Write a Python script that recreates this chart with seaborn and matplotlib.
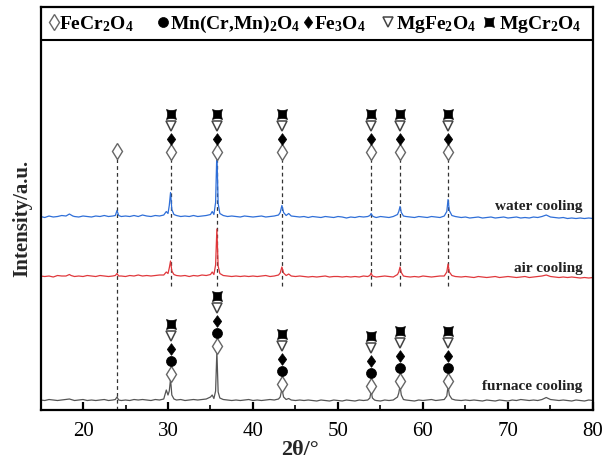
import matplotlib
matplotlib.use("Agg")
import matplotlib.pyplot as plt
import seaborn as sns
import pandas as pd
from matplotlib.path import Path

# ---------------- data ----------------
two_theta = [
    15.0, 15.5, 16.0, 16.5, 17.0, 17.5, 18.0, 18.4, 18.6, 18.8,
    19.0, 19.5, 20.0, 20.5, 21.0, 21.5, 22.0, 22.5, 23.0, 23.5,
    23.8, 24.0, 24.2, 24.5, 25.0, 25.5, 26.0, 26.5, 27.0, 27.5,
    28.0, 28.5, 29.0, 29.5, 29.8, 30.0, 30.15, 30.3, 30.45, 30.7,
    31.0, 31.5, 32.0, 32.5, 33.0, 33.5, 34.0, 34.5, 35.0, 35.2,
    35.4, 35.6, 35.75, 35.9, 36.1, 36.5, 37.0, 37.5, 38.0, 38.5,
    39.0, 39.5, 40.0, 40.5, 41.0, 41.5, 42.0, 42.5, 43.0, 43.2,
    43.4, 43.6, 43.9, 44.2, 44.5, 45.0, 45.5, 46.0, 46.5, 47.0,
    47.5, 48.0, 48.5, 49.0, 49.5, 50.0, 50.5, 51.0, 51.5, 52.0,
    52.5, 53.0, 53.5, 53.75, 53.9, 54.05, 54.3, 54.5, 55.0, 55.5,
    56.0, 56.5, 57.0, 57.15, 57.3, 57.45, 57.7, 58.0, 58.5, 59.0,
    59.5, 60.0, 60.5, 61.0, 61.5, 62.0, 62.5, 62.8, 62.95, 63.1,
    63.4, 63.8, 64.5, 65.0, 65.5, 66.0, 66.5, 67.0, 67.5, 68.0,
    68.5, 69.0, 69.5, 70.0, 70.5, 71.0, 71.5, 72.0, 72.5, 73.0,
    73.5, 74.0, 74.5, 75.0, 75.5, 76.0, 76.5, 77.0, 77.5, 78.0,
    78.5, 79.0, 79.5, 80.0,
]

water_cooling = [
    1, 0, 1.5, 0.5, 1, 2, 1.5, 3.5, 2.5, 1.5,
    1, 0.5, 1.5, 1, 0.5, 1.5, 1, 2, 1, 1.5,
    2, 7, 2, 1, 1.5, 1, 2, 1, 2.5, 1.5,
    1, 2, 1.5, 2.5, 6, 4, 12, 25, 8, 3,
    2, 1, 1.5, 1, 2, 1, 1.5, 2, 3, 6,
    3, 15, 66, 14, 4, 2, 1, 1.5, 1, 0.5,
    1.5, 1, 0.5, 1, 1.5, 0.5, 1, 1.5, 2.5, 5,
    12, 5, 2, 4, 1.5, 1, 0.5, 1, 0, 1,
    0.5, 0, 1, 0.5, 0, 1, 0.5, -0.5, 0.5, 0,
    1, 0.5, 1, 2, 4, 1.5, 0.5, 0, 1, 0.5,
    0, 1, 3, 6, 11, 5, 1.5, 1, 0.5, 0,
    1, 0.5, 0, 1, 0.5, 0, 1.5, 6, 18, 7,
    2, 1, 0, 0.5, -0.5, 0, 0.5, -0.5, 0, 0.5,
    -0.5, 0, 0.5, -0.5, 0, 0.5, -0.5, 0, -0.5, 0.5,
    0, 1, 2.5, 0.5, 0, -0.5, 0, -1, -0.5, -1,
    -0.5, -1, -0.5, -1,
]

air_cooling = [
    1, 0.5, 1, 0, 1.5, 1, 1, 2.5, 1.5, 1,
    0.5, 1, 0.5, 1.5, 1, 0.5, 1.5, 1, 0.5, 1,
    1.5, 3.5, 1, 1, 0.5, 1.5, 1, 2, 1, 1.5,
    1, 1.5, 2, 2, 5, 3.5, 9, 16, 6, 2.5,
    1.5, 1, 1.5, 0.5, 1.5, 1, 2, 1.5, 2.5, 5,
    2.5, 12, 48, 11, 3.5, 1.5, 1, 0.5, 1, 0.5,
    1, 0.5, 1, 0.5, 1, 1.5, 0.5, 1, 2, 4,
    10, 4, 1.5, 3, 1, 0.5, 1, 0.5, 0, 0.5,
    0, 0.5, 1, 0, 0.5, 0.5, 0, 0.5, 0, 0.5,
    0, 1, 0.5, 1.5, 4, 1, 0.5, 0, 0.5, 1,
    0.5, 0, 2.5, 5, 10, 4.5, 1, 0.5, 0, 0.5,
    0, 1, 0.5, 0, 0.5, 1, 1, 5, 13, 5,
    1.5, 0.5, 0, 0.5, 0, -0.5, 0.5, 0, -0.5, 0,
    0.5, -0.5, 0, 0.5, 0, -0.5, 0, 0.5, -0.5, 0,
    0.5, 1, 2, 0.5, 0, -0.5, 0, -0.5, 0, -0.5,
    -1, -0.5, -1, -0.5,
]

furnace_cooling = [
    1, 0.5, 1.5, 1, 0.5, 1, 1.5, 2, 1.5, 1,
    0.5, 1, 1.5, 0.5, 1, 0.5, 1, 1.5, 0.5, 1,
    1.5, 4, 1, 0.5, 1, 0.5, 1.5, 1, 1.5, 1,
    0.5, 1.5, 1, 2, 11, 6, 10, 22, 6, 2,
    1, 1.5, 0.5, 1, 1.5, 1, 1.5, 2, 4, 6,
    2.5, 10, 50, 9, 3, 1.5, 1, 0.5, 1, 0.5,
    1, 1.5, 0.5, 1, 0.5, 1, 1.5, 1, 2, 4,
    12, 4, 1.5, 2.5, 1, 0.5, 1, 0.5, 1, 0.5,
    0, 1, 0.5, 0, 1, 0.5, 0, 1, 0.5, 0,
    1, 0.5, 1, 3, 10, 3, 1, 0.5, 0, 1,
    0.5, 1, 4, 8, 15, 6, 1.5, 1, 0.5, 0,
    1, 0.5, 1, 1.5, 0.5, 1, 1.5, 5, 15, 6,
    2, 1, 0.5, 1, 0.5, 1, 0.5, 0, 1, 0.5,
    0, 1, 0.5, 0, 1, 0.5, 1.5, 1, 0.5, 1,
    0.5, 1.5, 3.5, 1.5, 1, 0.5, 1, 0.5, 0, 1,
    0.5, 0, 1, 0.5,
]

trace_names = ["water cooling", "air cooling", "furnace cooling"]
trace_values = [water_cooling, air_cooling, furnace_cooling]
trace_offsets = [192.5, 133, 9]
trace_colors = ["#2f6fd8", "#e0383c", "#555555"]

phase_labels = ["FeCr$_2$O$_4$", "Mn(Cr,Mn)$_2$O$_4$", "Fe$_3$O$_4$",
                "MgFe$_2$O$_4$", "MgCr$_2$O$_4$"]

upper_peaks = [24.0, 30.3, 35.75, 43.4, 53.9, 57.3, 62.95]
upper_phases = [[0], [0, 2, 3, 4], [0, 2, 3, 4], [0, 2, 3, 4],
                [0, 2, 3, 4], [0, 2, 3, 4], [0, 2, 3, 4]]
lower_peaks = [30.3, 35.75, 43.4, 53.9, 57.3, 62.95]
lower_phases = [[0, 1, 2, 3, 4]] * 6

x_ticks = [20, 30, 40, 50, 60, 70, 80]

# ---------------- style ----------------
sns.set_theme(style="ticks")
plt.rcParams["font.family"] = ["Liberation Serif", "DejaVu Serif"]
plt.rcParams["mathtext.fontset"] = "custom"
plt.rcParams["mathtext.rm"] = "Liberation Serif:bold"
plt.rcParams["mathtext.it"] = "Liberation Serif:bold"
plt.rcParams["mathtext.bf"] = "Liberation Serif:bold"

# concave square marker for MgCr2O4
verts = [(-1, -1), (0, -0.55), (1, -1), (0.55, 0), (1, 1),
         (0, 0.55), (-1, 1), (-0.55, 0), (-1, -1), (-1, -1)]
codes = [Path.MOVETO, Path.CURVE3, Path.CURVE3, Path.CURVE3, Path.CURVE3,
         Path.CURVE3, Path.CURVE3, Path.CURVE3, Path.CURVE3, Path.CLOSEPOLY]
concave_sq = Path(verts, codes)
fat_diamond = Path([(0, -1), (0.72, 0), (0, 1), (-0.72, 0), (0, -1)],
                   [Path.MOVETO, Path.LINETO, Path.LINETO, Path.LINETO, Path.CLOSEPOLY])

phase_style = [
    dict(marker="d", ms=8.4, mfc="white", mec="#666666", mew=1.0),
    dict(marker="o", ms=7.2, mfc="black", mec="black", mew=0.5),
    dict(marker=fat_diamond, ms=8.4, mfc="black", mec="black", mew=0.5),
    dict(marker="v", ms=7.4, mfc="white", mec="#444444", mew=1.1),
    dict(marker=concave_sq, ms=7.2, mfc="black", mec="black", mew=0.5),
]

fig = plt.figure(figsize=(6.1, 4.6), dpi=100)
ax = fig.add_axes([0.0664, 0.1065, 0.9057, 0.8761])

rows = []
for name, vals, off in zip(trace_names, trace_values, trace_offsets):
    for t, v in zip(two_theta, vals):
        rows.append({"two_theta": t, "intensity": v + off, "trace": name})
df = pd.DataFrame(rows)

# dashed guide lines
for p in upper_peaks:
    y_low = 0 if p == upper_peaks[0] else 124
    ax.plot([p, p], [y_low, 252], color="#333333", lw=0.9,
            dashes=(3, 2.5), zorder=1)

sns.lineplot(data=df, x="two_theta", y="intensity", hue="trace",
             palette=dict(zip(trace_names, trace_colors)), estimator=None,
             sort=False, legend=False, linewidth=0.9, ax=ax, zorder=2)

# phase markers - upper stacks
step = 12.8
for p, phs in zip(upper_peaks, upper_phases):
    base = 259 if len(phs) == 1 else 258
    for k, ph in enumerate(phs):
        ax.plot([p], [base + k * step], linestyle="none", zorder=4,
                **phase_style[ph])

# phase markers - furnace cooling stacks
for p, phs in zip(lower_peaks, lower_phases):
    top = furnace_cooling[two_theta.index(p)] + trace_offsets[2]
    base = top + 5.5
    for k, ph in enumerate(phs):
        ax.plot([p], [base + k * 12.4], linestyle="none", zorder=4,
                **phase_style[ph])

# trace labels
label_dy = [12.5, 10, 16]
for name, off, dy in zip(trace_names, trace_offsets, label_dy):
    ax.text(78.8, off + dy, name, ha="right", va="center",
            fontsize=11, fontweight="bold", color="#222222")

# legend strip
ax.axhline(370, color="black", lw=1.5)
leg_marker_x = [16.6, 29.4, 46.5, 55.9, 67.8]
leg_text_x = [17.2, 30.2, 47.2, 56.8, 68.9]
for i, lab in enumerate(phase_labels):
    st = dict(phase_style[i])
    ax.plot([leg_marker_x[i]], [388], linestyle="none", clip_on=False, **st)
    ax.text(leg_text_x[i], 387, lab, ha="left", va="center",
            fontsize=14, fontweight="bold", color="black")

ax.set_xlim(15, 80)
ax.set_ylim(0, 403)
ax.set_xticks(x_ticks)
ax.set_xticks([25, 35, 45, 55, 65, 75], minor=True)
ax.set_yticks([])
ax.tick_params(axis="x", which="major", direction="in", length=6, width=1.6,
               labelsize=15, pad=8, colors="black")
ax.tick_params(axis="x", which="minor", direction="in", length=3.5, width=1.4)
for s in ax.spines.values():
    s.set_linewidth(1.6)
    s.set_color("black")
ax.set_xlabel("")
ax.set_ylabel("")

fig.text(22 / 610, 1 - 218 / 460, "Intensity/a.u.", rotation=90,
         ha="center", va="center", fontsize=15, fontweight="bold")
fig.text(300 / 610, 1 - 450 / 460, "2θ/°", ha="center", va="center",
         fontsize=16, fontweight="bold")

fig.savefig("out.png", dpi=100)
